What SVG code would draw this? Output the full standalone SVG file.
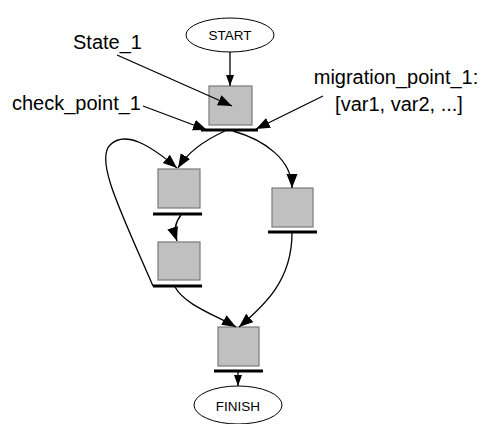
<svg xmlns="http://www.w3.org/2000/svg" width="482" height="424" viewBox="0 0 482 424">
<style>
.box{fill:#c0c0c0;stroke:#7a7a7a;stroke-width:1.2}
.bar{stroke:#000;stroke-width:3}
.ell{fill:#fff;stroke:#000;stroke-width:1}
.edge{fill:none;stroke:#000;stroke-width:1.3}
.lbl{font-family:"Liberation Sans",Arial,sans-serif;font-size:20px;fill:#000}
.term{font-family:"Liberation Sans",Arial,sans-serif;font-size:13.5px;fill:#000;text-anchor:middle}
</style>
<defs>
<marker id="ah" markerUnits="userSpaceOnUse" markerWidth="15" markerHeight="13" refX="14" refY="5.5" orient="auto">
<path d="M0,0 L14,5.5 L0,11 z" fill="#000"/>
</marker>
<marker id="ahs" markerUnits="userSpaceOnUse" markerWidth="12" markerHeight="10" refX="11" refY="4" orient="auto">
<path d="M0,0 L11,4 L0,8 z" fill="#000"/>
</marker>
</defs>
<g id="start"><ellipse class="ell" cx="230" cy="35" rx="44" ry="17"/><text class="term" x="230" y="40">START</text></g>
<g id="state1"><rect class="box" x="209" y="86" width="43" height="39"/><line class="bar" x1="201" y1="130" x2="258" y2="130"/></g>
<g id="state2"><rect class="box" x="158" y="169" width="42" height="39"/><line class="bar" x1="153" y1="214" x2="202" y2="214"/></g>
<g id="state3"><rect class="box" x="272" y="188" width="41" height="39"/><line class="bar" x1="268" y1="232" x2="317" y2="232"/></g>
<g id="state4"><rect class="box" x="158" y="242" width="42" height="38"/><line class="bar" x1="153" y1="286" x2="202" y2="286"/></g>
<g id="state5"><rect class="box" x="218" y="327" width="41" height="39"/><line class="bar" x1="214" y1="371" x2="263" y2="371"/></g>
<g id="finish"><ellipse class="ell" cx="238" cy="405" rx="44" ry="19"/><text class="term" x="238" y="411">FINISH</text></g>
<g id="labels">
<text class="lbl" x="73" y="49">State_1</text>
<text class="lbl" x="12" y="110">check_point_1</text>
<text class="lbl" x="396" y="84" text-anchor="middle">migration_point_1:</text>
<text class="lbl" x="399" y="111" text-anchor="middle">[var1, var2, ...]</text>
</g>
<g id="connectors">
<line class="edge" x1="230" y1="52" x2="230" y2="86" marker-end="url(#ahs)"/>
<line class="edge" x1="117" y1="55" x2="232" y2="106" marker-end="url(#ah)"/>
<line class="edge" x1="143" y1="106" x2="207" y2="130" marker-end="url(#ah)"/>
<line class="edge" x1="323" y1="96" x2="256" y2="129" marker-end="url(#ah)"/>
<path class="edge" d="M225,131 C205,140 188,152 178,168" marker-end="url(#ah)"/>
<path class="edge" d="M233,131 C265,140 292,160 292,188" marker-end="url(#ah)"/>
<path class="edge" d="M153,286 C120,210 95,160 110,145 C125,130 150,145 177,168" marker-end="url(#ah)"/>
<path class="edge" d="M181,215 Q172,226 177,241" marker-end="url(#ah)"/>
<path class="edge" d="M175,287 C185,305 215,315 236,327" marker-end="url(#ah)"/>
<path class="edge" d="M292,233 C292,280 265,305 239,327" marker-end="url(#ah)"/>
<line class="edge" x1="238" y1="372" x2="238" y2="386" marker-end="url(#ahs)"/>
</g>
</svg>
